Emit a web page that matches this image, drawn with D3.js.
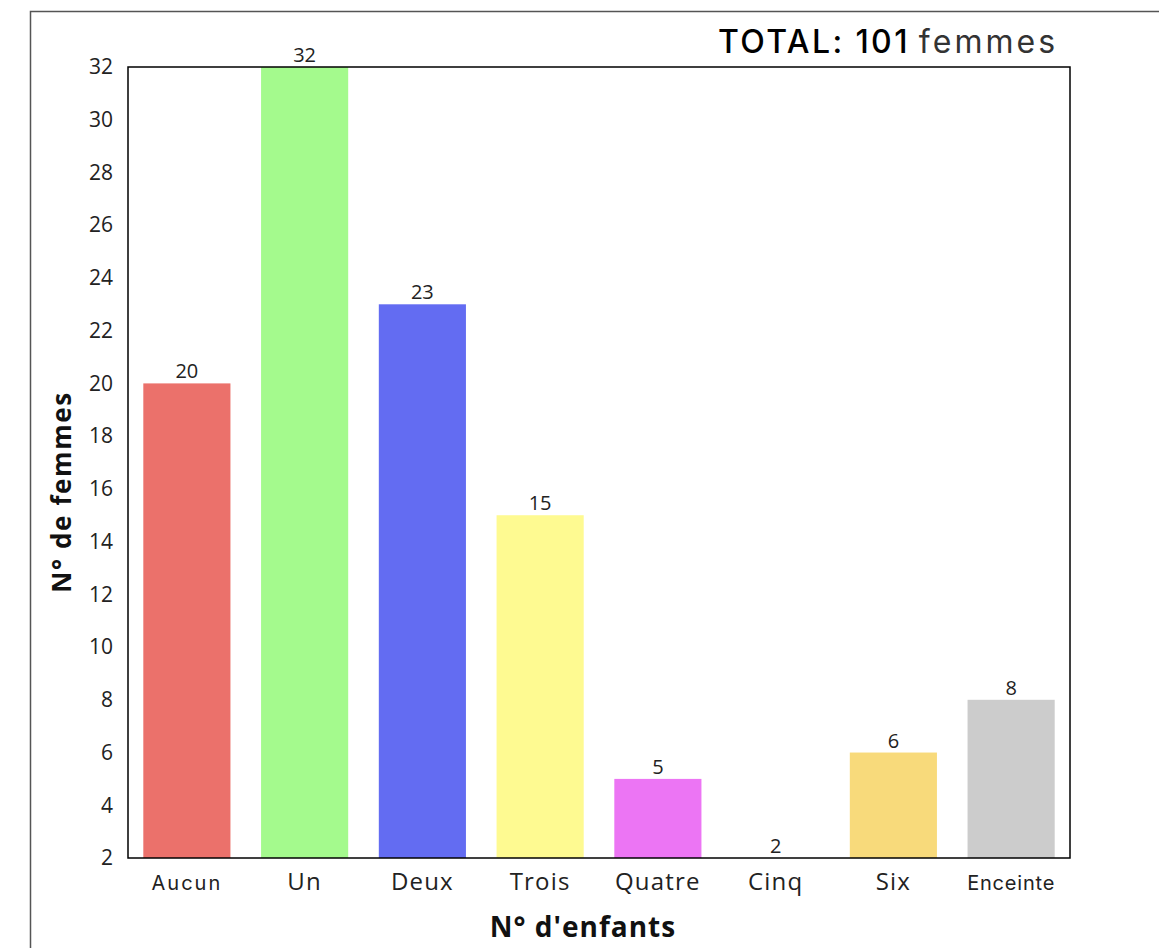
<!DOCTYPE html>
<html>
<head>
<meta charset="utf-8">
<script src="https://cdn.jsdelivr.net/npm/d3@7"></script>
<style>
  html, body { margin: 0; padding: 0; background: #fff; }
  svg { display: block; }
</style>
</head>
<body>
<svg id="chart" width="1159" height="948"></svg>
<script>
// Number of children per woman
const categories = ["Aucun", "Un", "Deux", "Trois", "Quatre", "Cinq", "Six", "Enceinte"];
const counts = [20, 32, 23, 15, 5, 2, 6, 8];
const barColors = ["#EB716B", "#A4FA8D", "#636CF2", "#FEFA91", "#EC75F4", "#62D9E8", "#F8DA7B", "#CCCCCC"];
const yTicks = [2, 4, 6, 8, 10, 12, 14, 16, 18, 20, 22, 24, 26, 28, 30, 32];
const yDomain = [2, 32];
const totalWomen = 101;

// Tick label styling per category
const tickFonts = {
  "Aucun":    { family: "Inter", size: 20, spacing: 2 },
  "Enceinte": { family: "Inter", size: 20, spacing: 0.8 },
};
const defaultTickFont = { family: "Open Sans", size: 24, spacing: 1.2 };

const svg = d3.select("#chart");
const W = 1159, H = 948;
const plot = { left: 128, top: 67, right: 1070, bottom: 858 };

// Outer frame (runs off the right and bottom edge)
svg.append("rect")
  .attr("x", 30.5).attr("y", 11.5)
  .attr("width", W + 20).attr("height", H + 20)
  .attr("fill", "none").attr("stroke", "#555").attr("stroke-width", 1.5);

const x = d3.scaleBand()
  .domain(categories)
  .range([plot.left, plot.right])
  .paddingInner(0.26)
  .paddingOuter(0.13);

const y = d3.scaleLinear()
  .domain(yDomain)
  .range([plot.bottom, plot.top]);

const data = categories.map((c, i) => ({ cat: c, value: counts[i], color: barColors[i] }));

// Bars
svg.append("g").selectAll("rect")
  .data(data)
  .join("rect")
  .attr("x", d => x(d.cat))
  .attr("width", x.bandwidth())
  .attr("y", d => y(d.value))
  .attr("height", d => y(yDomain[0]) - y(d.value))
  .attr("fill", d => d.color);

// Value labels
svg.append("g").selectAll("text")
  .data(data)
  .join("text")
  .attr("x", d => x(d.cat) + x.bandwidth() / 2)
  .attr("y", d => y(d.value) - 5)
  .attr("text-anchor", "middle")
  .attr("font-family", "Open Sans, sans-serif")
  .attr("font-size", 20)
  .attr("fill", "#222")
  .text(d => d.value);

// Y axis
const yAxis = svg.append("g")
  .attr("transform", `translate(${plot.left},0)`)
  .call(d3.axisLeft(y).tickValues(yTicks).tickSize(0).tickPadding(15));
yAxis.select(".domain").remove();
yAxis.selectAll("text")
  .attr("font-family", "Open Sans, sans-serif")
  .attr("font-size", 21)
  .attr("fill", "#222");

// X axis
const xAxis = svg.append("g")
  .attr("transform", `translate(0,${plot.bottom})`)
  .call(d3.axisBottom(x).tickSize(0).tickPadding(0));
xAxis.select(".domain").remove();
xAxis.selectAll("text")
  .attr("dy", null)
  .attr("y", 32)
  .each(function (d) {
    const f = tickFonts[d] || defaultTickFont;
    d3.select(this)
      .attr("font-family", f.family + ", sans-serif")
      .attr("font-size", f.size)
      .attr("letter-spacing", f.spacing)
      .attr("fill", "#222");
  });

// Plot frame
svg.append("rect")
  .attr("x", plot.left).attr("y", plot.top)
  .attr("width", plot.right - plot.left).attr("height", plot.bottom - plot.top)
  .attr("fill", "none").attr("stroke", "#000").attr("stroke-width", 1.5);

// Axis titles
svg.append("text")
  .attr("x", 583)
  .attr("y", 937)
  .attr("text-anchor", "middle")
  .attr("font-family", "Open Sans, sans-serif")
  .attr("font-weight", 700)
  .attr("font-size", 28)
  .attr("letter-spacing", 1)
  .attr("fill", "#111")
  .text("N° d'enfants");

svg.append("text")
  .attr("transform", `translate(71,${492}) rotate(-90)`)
  .attr("text-anchor", "middle")
  .attr("font-family", "Open Sans, sans-serif")
  .attr("font-weight", 700)
  .attr("font-size", 26)
  .attr("letter-spacing", 1.6)
  .attr("fill", "#111")
  .text("N° de femmes");

// Total
const title = svg.append("text")
  .attr("x", 718)
  .attr("y", 53)
  .attr("font-family", "Inter, sans-serif")
  .attr("font-size", 32);
title.append("tspan")
  .attr("font-weight", 500)
  .attr("letter-spacing", 2.4)
  .attr("fill", "#000")
  .text(`TOTAL: ${totalWomen}`);
title.append("tspan")
  .attr("dx", 9)
  .attr("font-weight", 400)
  .attr("letter-spacing", 3)
  .attr("fill", "#333")
  .text("femmes");
</script>
</body>
</html>
